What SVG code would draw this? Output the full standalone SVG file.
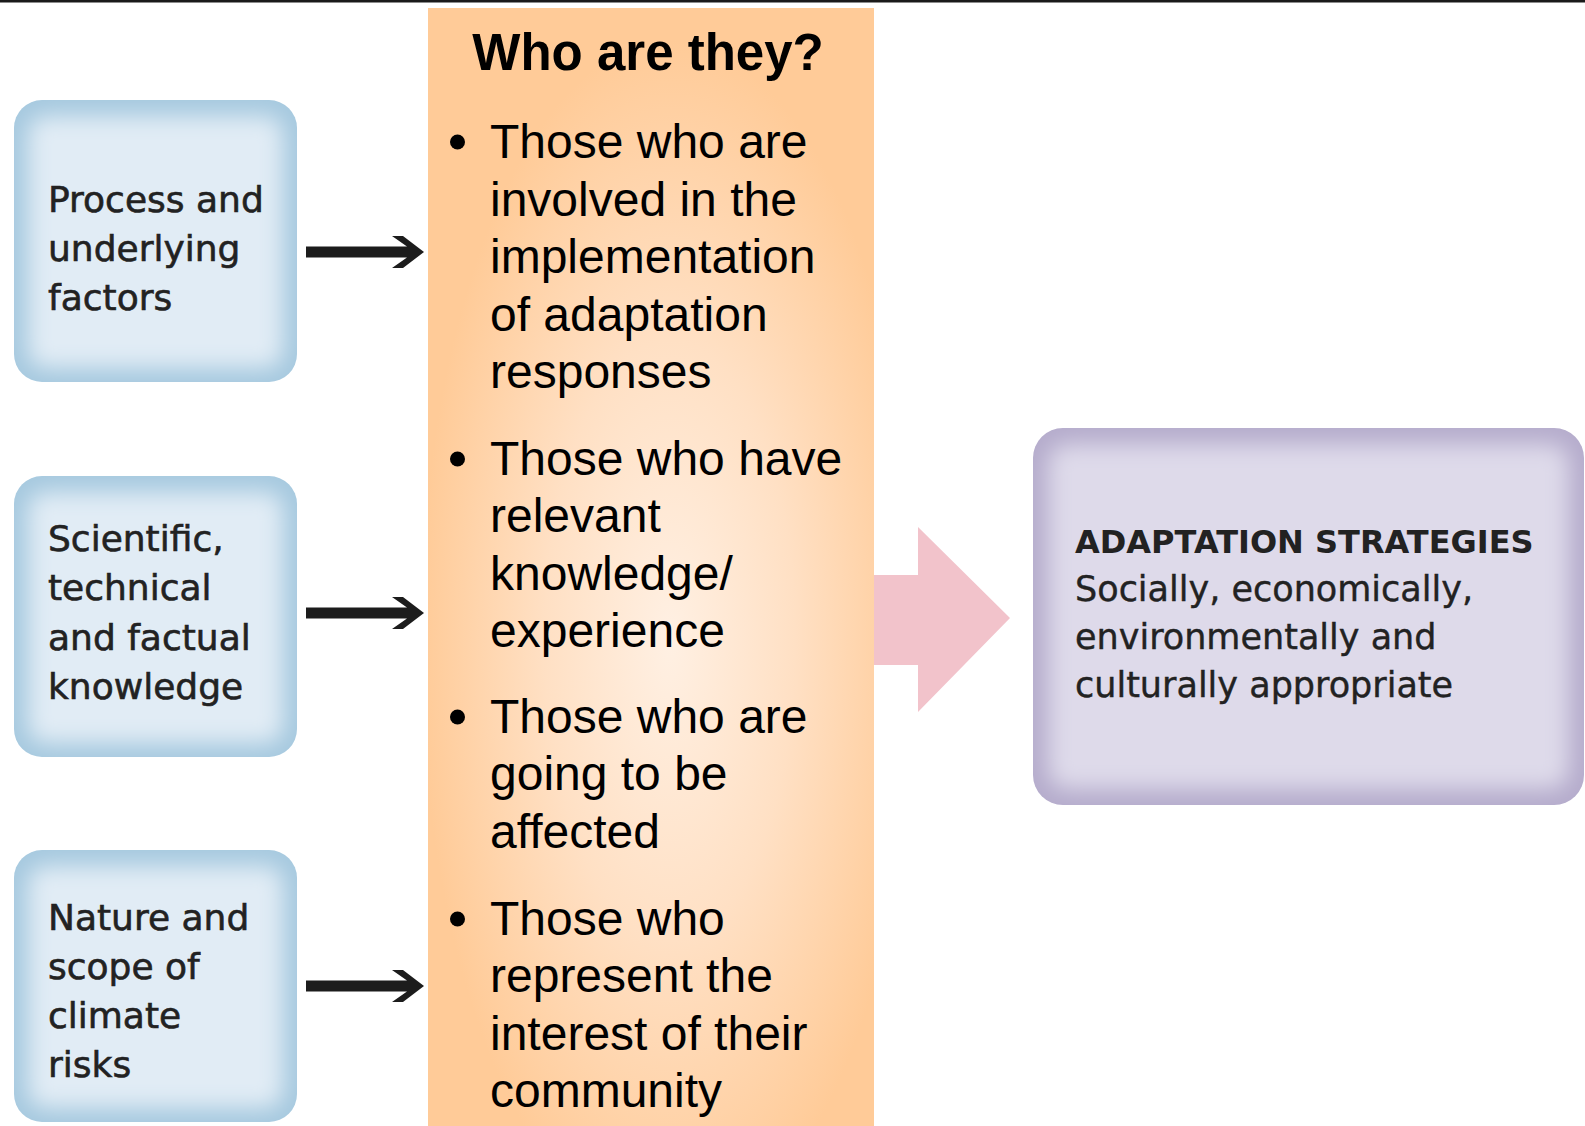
<svg xmlns="http://www.w3.org/2000/svg" width="1585" height="1126" viewBox="0 0 1585 1126">
  <style>
    .lbl { font-family: "DejaVu Sans", Verdana, sans-serif; font-size: 36px; fill: #222; stroke: #222; stroke-width: 0.6px; }
    .body { font-family: "Liberation Sans", Arial, sans-serif; font-size: 48px; fill: #000; }
    .title { font-family: "Liberation Sans", Arial, sans-serif; font-size: 51px; font-weight: bold; fill: #000; }
    .ptitle { font-family: "DejaVu Sans", Verdana, sans-serif; font-size: 32px; font-weight: bold; fill: #222; }
    .psub { font-family: "DejaVu Sans", Verdana, sans-serif; font-size: 35px; fill: #222; stroke: #222; stroke-width: 0.4px; }
    .blueEdge { fill: #A6C9DF; }
    .blueCore { fill: #E1ECF5; }
    .purEdge { fill: #B5ACCC; }
    .purCore { fill: #DEDAEA; }
    .blk { fill: #1c1c1c; }
  </style>
  <defs>
    <filter id="soft" x="-20%" y="-20%" width="140%" height="140%">
      <feGaussianBlur stdDeviation="11"/>
    </filter>
    <clipPath id="c1"><rect x="14" y="100" width="283" height="282" rx="28"/></clipPath>
    <clipPath id="c2"><rect x="14" y="476" width="283" height="281" rx="28"/></clipPath>
    <clipPath id="c3"><rect x="14" y="850" width="283" height="272" rx="28"/></clipPath>
    <clipPath id="c4"><rect x="1033" y="428" width="551" height="377" rx="30"/></clipPath>
    <radialGradient id="orange" gradientUnits="userSpaceOnUse" cx="670" cy="640" r="250" gradientTransform="translate(670 640) scale(1 2.4) translate(-670 -640)">
      <stop offset="0" stop-color="#FFF0E3"/>
      <stop offset="0.5" stop-color="#FFE0C4"/>
      <stop offset="1" stop-color="#FFCB98"/>
    </radialGradient>
  </defs>

  <rect x="0" y="0" width="1585" height="1126" fill="#FFFFFF"/>
  <rect x="0" y="0" width="1585" height="2.5" fill="#1a1a1a"/>

  <g id="panel-who">
    <rect x="428" y="8" width="446" height="1118" fill="url(#orange)"/>
    <text class="title" x="648" y="70" text-anchor="middle">Who are they?</text>
    <circle cx="457.5" cy="142" r="7.5" fill="#000"/>
    <text class="body"><tspan x="490" y="158">Those who are</tspan><tspan x="490" y="215.5">involved in the</tspan><tspan x="490" y="273">implementation</tspan><tspan x="490" y="330.5">of adaptation</tspan><tspan x="490" y="388">responses</tspan></text>
    <circle cx="457.5" cy="459" r="7.5" fill="#000"/>
    <text class="body"><tspan x="490" y="475">Those who have</tspan><tspan x="490" y="532">relevant</tspan><tspan x="490" y="589.5">knowledge/</tspan><tspan x="490" y="647">experience</tspan></text>
    <circle cx="457.5" cy="717" r="7.5" fill="#000"/>
    <text class="body"><tspan x="490" y="733">Those who are</tspan><tspan x="490" y="790">going to be</tspan><tspan x="490" y="847.5">affected</tspan></text>
    <circle cx="457.5" cy="919" r="7.5" fill="#000"/>
    <text class="body"><tspan x="490" y="935">Those who</tspan><tspan x="490" y="992">represent the</tspan><tspan x="490" y="1050">interest of their</tspan><tspan x="490" y="1107">community</tspan></text>
  </g>

  <g id="connectors">
    <path d="M874 575 H918 V527 L1010 618 L918 712 V665 H874 Z" fill="#F2C3CB"/>
    <path class="blk" d="M306 246.5 H407 L392 236 H403 L424 252 L403 268 H392 L407 257.5 H306 Z"/>
    <path class="blk" d="M306 607.5 H407 L392 597 H403 L424 613 L403 629 H392 L407 618.5 H306 Z"/>
    <path class="blk" d="M306 980.5 H407 L392 970 H403 L424 986 L403 1002 H392 L407 991.5 H306 Z"/>
  </g>

  <g id="box-process">
    <g clip-path="url(#c1)">
      <rect class="blueEdge" x="14" y="100" width="283" height="282"/>
      <rect class="blueCore" x="28" y="116" width="255" height="252" rx="18" filter="url(#soft)"/>
    </g>
    <text class="lbl"><tspan x="48" y="212">Process and</tspan><tspan x="48" y="261">underlying</tspan><tspan x="48" y="310">factors</tspan></text>
  </g>

  <g id="box-knowledge">
    <g clip-path="url(#c2)">
      <rect class="blueEdge" x="14" y="476" width="283" height="281"/>
      <rect class="blueCore" x="28" y="492" width="255" height="251" rx="18" filter="url(#soft)"/>
    </g>
    <text class="lbl"><tspan x="48" y="551">Scientific,</tspan><tspan x="48" y="600">technical</tspan><tspan x="48" y="650">and factual</tspan><tspan x="48" y="699">knowledge</tspan></text>
  </g>

  <g id="box-climate">
    <g clip-path="url(#c3)">
      <rect class="blueEdge" x="14" y="850" width="283" height="272"/>
      <rect class="blueCore" x="28" y="866" width="255" height="242" rx="18" filter="url(#soft)"/>
    </g>
    <text class="lbl"><tspan x="48" y="930">Nature and</tspan><tspan x="48" y="979">scope of</tspan><tspan x="48" y="1028">climate</tspan><tspan x="48" y="1077">risks</tspan></text>
  </g>

  <g id="box-strategies">
    <g clip-path="url(#c4)">
      <rect class="purEdge" x="1033" y="428" width="551" height="377"/>
      <rect class="purCore" x="1048" y="444" width="521" height="345" rx="20" filter="url(#soft)"/>
    </g>
    <text class="ptitle" x="1075" y="553">ADAPTATION STRATEGIES</text>
    <text class="psub"><tspan x="1075" y="601">Socially, economically,</tspan><tspan x="1075" y="649">environmentally and</tspan><tspan x="1075" y="697">culturally appropriate</tspan></text>
  </g>
</svg>
